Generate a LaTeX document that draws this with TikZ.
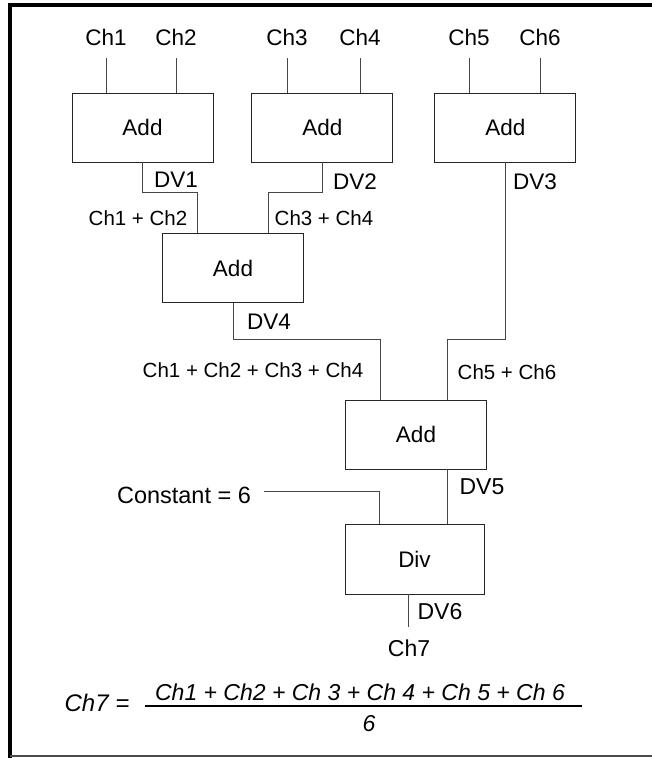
\documentclass[tikz,border=0pt]{standalone}
\usepackage{fontspec}
\setmainfont{Liberation Sans}
\usetikzlibrary{positioning,calc}
\definecolor{wiregray}{RGB}{70,70,70}

\begin{document}
\begin{tikzpicture}[
    x=1pt, y=-1pt,
    opbox/.style={
        draw=black!85,
        line width=0.9pt,
        minimum width=141pt,
        minimum height=69pt,
        inner sep=0pt,
        font=\fontsize{22.5}{27}\selectfont
    },
    chan/.style={
        inner sep=3pt,
        font=\fontsize{22.5}{27}\selectfont
    },
    sumlbl/.style={
        inner sep=2pt,
        font=\fontsize{20.5}{24}\selectfont
    },
    wire/.style={
        draw=wiregray,
        line width=0.9pt
    },
    feed/.style={
        wire,
        shorten <=10pt
    }
]
\useasboundingbox (0,0) rectangle (652,758);

% frame
\draw[line width=4pt] (10,758) -- (10,5) -- (652,5);
\draw[line width=1.2pt, black!70] (10,756) -- (652,756);

% operator blocks
\node[opbox] (add1) at (142.5,127.5) {Add};
\node[opbox, right=38pt of add1] (add2) {Add};
\node[opbox, right=41pt of add2] (add3) {Add};
\node[opbox] (add4) at (233,268) {Add};
\node[opbox] (add5) at (416,434.5) {Add};
\node[opbox, minimum width=139pt, minimum height=70pt] (div) at (414.5,559) {Div};

% channel inputs
\node[chan] (ch1) at (106,37) {Ch1};
\node[chan] (ch2) at (176,37) {Ch2};
\node[chan] (ch3) at (287,37) {Ch3};
\node[chan] (ch4) at (360,37) {Ch4};
\node[chan] (ch5) at (469,37) {Ch5};
\node[chan] (ch6) at (540,37) {Ch6};
\node[chan, font=\fontsize{23.5}{28}\selectfont] (const) at (184,495) {Constant = 6};
\node[chan, font=\fontsize{23}{27}\selectfont] (ch7) at (409,648) {Ch7};

% derived variables
\node[chan] (dv1) at (176,180) {DV1};
\node[chan] (dv2) at (355,182) {DV2};
\node[chan] (dv3) at (535,182) {DV3};
\node[chan] (dv4) at (269,322) {DV4};
\node[chan, font=\fontsize{23}{27}\selectfont] (dv5) at (482,487) {DV5};
\node[chan, font=\fontsize{23}{27}\selectfont] (dv6) at (440,612) {DV6};

% partial sums
\node[sumlbl] (s12) at (138,218) {Ch1 + Ch2};
\node[sumlbl] (s34) at (324,218) {Ch3 + Ch4};
\node[sumlbl] (s1234) at (253,370) {Ch1 + Ch2 + Ch3 + Ch4};
\node[sumlbl] (s56) at (507,372) {Ch5 + Ch6};

% inputs to first row
\draw[feed] (ch1.south) -- (ch1.south |- add1.north);
\draw[feed] (ch2.south) -- (ch2.south |- add1.north);
\draw[feed] (ch3.south) -- (ch3.south |- add2.north);
\draw[feed] (ch4.south) -- (ch4.south |- add2.north);
\draw[feed] (ch5.south) -- (ch5.south |- add3.north);
\draw[feed] (ch6.south) -- (ch6.south |- add3.north);

% sums
\draw[wire] (add1.south) -- ++(0,30) -| ($(add4.north)!0.5!(add4.north west)$);
\draw[wire] (add2.south) -- ++(0,30) -| ($(add4.north)!0.5!(add4.north east)$);
\draw[wire] (add4.south) -- ++(0,36) -| ($(add5.north)!0.5!(add5.north west)$);
\draw[wire] (add3.south) -- ++(0,177) -| ($(add5.north)!0.45!(add5.north east)$);
\draw[wire] ($(add5.south)!0.45!(add5.south east)$) coordinate (o5) -- (o5 |- div.north);
\draw[wire] ([xshift=10pt,yshift=4pt]const.east) -| ($(div.north)!0.5!(div.north west)$);
\draw[wire, shorten >=9pt] ($(div.south)!0.08!(div.south west)$) coordinate (o6) -- (o6 |- ch7.north);

% formula
\node[inner sep=0pt, font=\fontsize{24}{28}\selectfont\itshape] (lhs) at (97,703) {Ch7 =};
\node[inner sep=2pt, font=\fontsize{23}{27}\selectfont\itshape] (num) at (360,692) {Ch1 + Ch2 + Ch 3 + Ch 4 + Ch 5 + Ch 6};
\node[inner sep=2pt, font=\fontsize{23}{27}\selectfont\itshape] (den) at (369,724) {6};
\draw[line width=1.1pt] (145,706) -- (582,706);

\end{tikzpicture}
\end{document}
